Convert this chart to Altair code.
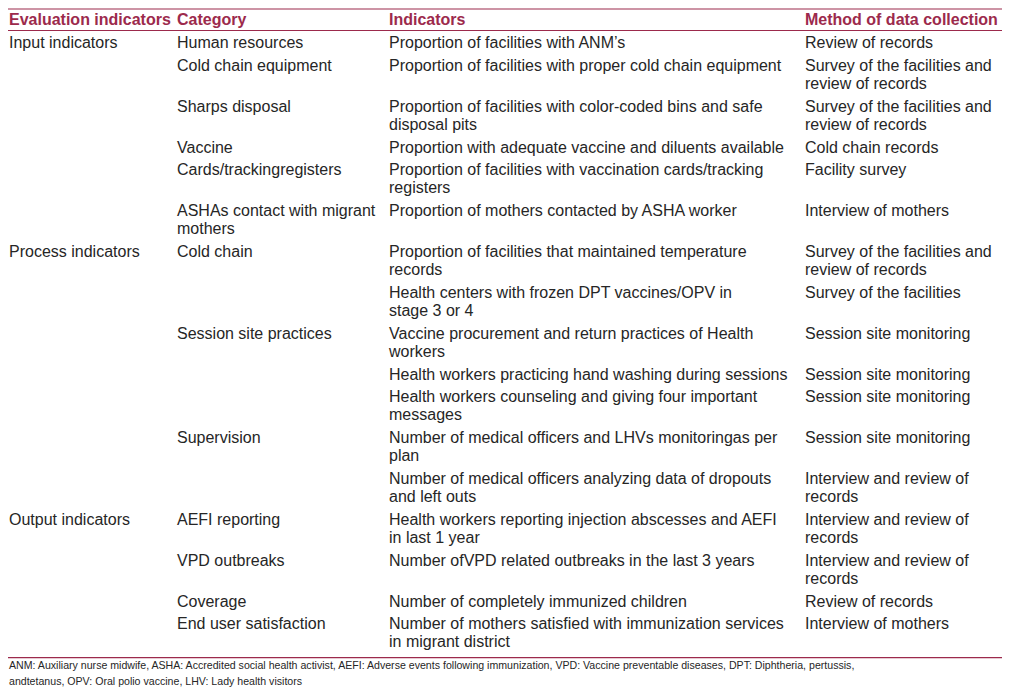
import altair as alt
import pandas as pd

# ---------------- data ----------------
headers = ["Evaluation indicators", "Category", "Indicators", "Method of data collection"]

col_eval = ["Input indicators", "", "", "", "", "",
            "Process indicators", "", "", "", "", "", "",
            "Output indicators", "", "", ""]
col_cat = ["Human resources", "Cold chain equipment", "Sharps disposal", "Vaccine",
           "Cards/trackingregisters", "ASHAs contact with migrant\nmothers",
           "Cold chain", "", "Session site practices", "", "", "Supervision", "",
           "AEFI reporting", "VPD outbreaks", "Coverage", "End user satisfaction"]
col_ind = ["Proportion of facilities with ANM\u2019s",
           "Proportion of facilities with proper cold chain equipment",
           "Proportion of facilities with color-coded bins and safe\ndisposal pits",
           "Proportion with adequate vaccine and diluents available",
           "Proportion of facilities with vaccination cards/tracking\nregisters",
           "Proportion of mothers contacted by ASHA worker",
           "Proportion of facilities that maintained temperature\nrecords",
           "Health centers with frozen DPT vaccines/OPV in\nstage 3 or 4",
           "Vaccine procurement and return practices of Health\nworkers",
           "Health workers practicing hand washing during sessions",
           "Health workers counseling and giving four important\nmessages",
           "Number of medical officers and LHVs monitoringas per\nplan",
           "Number of medical officers analyzing data of dropouts\nand left outs",
           "Health workers reporting injection abscesses and AEFI\nin last 1 year",
           "Number ofVPD related outbreaks in the last 3 years",
           "Number of completely immunized children",
           "Number of mothers satisfied with immunization services\nin migrant district"]
col_method = ["Review of records",
              "Survey of the facilities and\nreview of records",
              "Survey of the facilities and\nreview of records",
              "Cold chain records",
              "Facility survey",
              "Interview of mothers",
              "Survey of the facilities and\nreview of records",
              "Survey of the facilities",
              "Session site monitoring",
              "Session site monitoring",
              "Session site monitoring",
              "Session site monitoring",
              "Interview and review of\nrecords",
              "Interview and review of\nrecords",
              "Interview and review of\nrecords",
              "Review of records",
              "Interview of mothers"]

footnote = ["ANM: Auxiliary nurse midwife, ASHA: Accredited social health activist, AEFI: Adverse events following immunization, VPD: Vaccine preventable diseases, DPT: Diphtheria, pertussis,",
            "andtetanus, OPV: Oral polio vaccine, LHV: Lady health visitors"]

# ---------------- layout (reference pixel units) ----------------
COL_X = [1, 169, 381, 797]
HEADER_Y = 12
FIRST_Y = 36
ROW_GAP = 23
LINE_H = 18.8
RULES_Y = [1, 23, 664]
FOOT_Y = [673, 689]
W, H = 994, 681

cells = []
for i, h in enumerate(headers):
    cells.append({"x": COL_X[i], "y": HEADER_Y, "t": h, "kind": "head"})

y = FIRST_Y
for r in range(len(col_cat)):
    row = [col_eval[r], col_cat[r], col_ind[r], col_method[r]]
    nlines = max(len(c.split("\n")) for c in row)
    for ci, c in enumerate(row):
        for li, ln in enumerate(c.split("\n")):
            if ln:
                cells.append({"x": COL_X[ci], "y": y + li * LINE_H, "t": ln, "kind": "body"})
    y += ROW_GAP + LINE_H * (nlines - 1)

for fy, ft in zip(FOOT_Y, footnote):
    cells.append({"x": 1, "y": fy, "t": ft, "kind": "foot"})

df = pd.DataFrame(cells)
rules = pd.DataFrame({"y": RULES_Y})

xs = alt.Scale(domain=[0, W], range=[0, W])
ys = alt.Scale(domain=[0, 696], range=[0, H])

MAROON = "#9c2a4c"
FONT = "Liberation Sans"

base = alt.Chart(df)

head = base.transform_filter(alt.datum.kind == "head").mark_text(
    align="left", baseline="middle", font=FONT, fontSize=16, fontWeight="bold", color=MAROON
).encode(x=alt.X("x:Q", scale=xs, axis=None), y=alt.Y("y:Q", scale=ys, axis=None), text="t:N")

body = base.transform_filter(alt.datum.kind == "body").mark_text(
    align="left", baseline="middle", font=FONT, fontSize=16, color="#262626"
).encode(x=alt.X("x:Q", scale=xs, axis=None), y=alt.Y("y:Q", scale=ys, axis=None), text="t:N")

foot = base.transform_filter(alt.datum.kind == "foot").mark_text(
    align="left", baseline="middle", font=FONT, fontSize=10.6, color="#262626"
).encode(x=alt.X("x:Q", scale=xs, axis=None), y=alt.Y("y:Q", scale=ys, axis=None), text="t:N")

lines = alt.Chart(rules).mark_rule(color=MAROON, strokeWidth=1.2).encode(
    y=alt.Y("y:Q", scale=ys, axis=None), x=alt.value(0), x2=alt.value(W)
)

chart = alt.layer(lines, head, body, foot).properties(
    width=W, height=H, padding=0, autosize=alt.AutoSizeParams(type="none")
).configure_view(stroke=None)

chart.save("out.html", embed_options={"renderer": "svg", "actions": False})
